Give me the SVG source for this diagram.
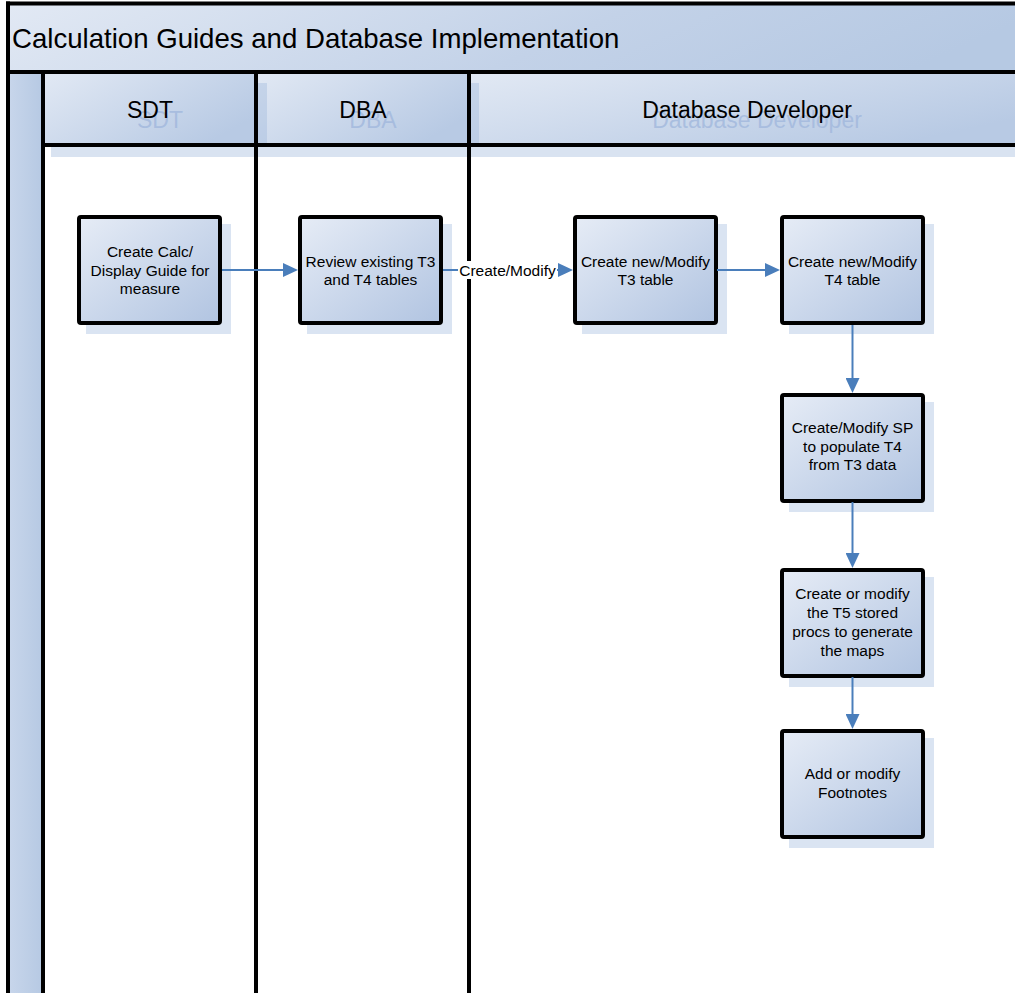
<svg xmlns="http://www.w3.org/2000/svg" width="1015" height="993" viewBox="0 0 1015 993">
<defs>
<linearGradient id="gNode" x1="0" y1="0" x2="1" y2="1">
<stop offset="0" stop-color="#e6ecf6"/>
<stop offset="1" stop-color="#b1c4e1"/>
</linearGradient>
<linearGradient id="gHead" x1="0" y1="0" x2="1" y2="0.6">
<stop offset="0" stop-color="#e2e9f4"/>
<stop offset="1" stop-color="#b8cae4"/>
</linearGradient>
<linearGradient id="gTitle" x1="0" y1="0" x2="1" y2="0.15">
<stop offset="0" stop-color="#e2e9f4"/>
<stop offset="0.6" stop-color="#c3d2e8"/>
<stop offset="1" stop-color="#b6c9e3"/>
</linearGradient>
<linearGradient id="gStrip" x1="0" y1="0" x2="1" y2="0">
<stop offset="0" stop-color="#c8d6eb"/>
<stop offset="1" stop-color="#b6c9e3"/>
</linearGradient>
<marker id="arr" viewBox="0 0 15 14" refX="1" refY="7" markerWidth="15" markerHeight="14" markerUnits="userSpaceOnUse" orient="auto">
<path d="M0,0 L15,7 L0,14 z" fill="#4a7ebb"/>
</marker>
<style>
.frame{stroke:#000;stroke-width:4;fill:none}
.title{font-family:"Liberation Sans",Arial,sans-serif;font-size:27.6px;fill:#000}
.lane{font-family:"Liberation Sans",Arial,sans-serif;font-size:23px;fill:#000;text-anchor:middle}
.ghost{font-family:"Liberation Sans",Arial,sans-serif;font-size:23px;fill:#9fb6dc;fill-opacity:0.75;text-anchor:middle}
.hshadow{fill:#9fb8dd;fill-opacity:0.4}
.nshadow{fill:#dae4f2}
.node{fill:url(#gNode);stroke:#000;stroke-width:4}
.nt{font-family:"Liberation Sans",Arial,sans-serif;font-size:15.5px;fill:#000;text-anchor:middle}
.conn{stroke:#4a7ebb;stroke-width:2;fill:none;marker-end:url(#arr)}
</style>
</defs>
<rect x="0" y="0" width="1015" height="993" fill="#fff"/>

<g id="pool">
<rect x="8" y="3.5" width="1030" height="68.5" fill="url(#gTitle)"/>
<rect x="8" y="72" width="35" height="930" fill="url(#gStrip)"/>
<text class="title" x="12" y="48">Calculation Guides and Database Implementation</text>
</g>

<g id="lane-sdt">
<rect x="43" y="72" width="213" height="73" fill="url(#gHead)"/>
</g>
<g id="lane-dba">
<rect x="256" y="72" width="213" height="73" fill="url(#gHead)"/>
</g>
<g id="lane-dd">
<rect x="469" y="72" width="560" height="73" fill="url(#gHead)"/>
</g>
<g id="lane-shadows">
<rect class="hshadow" x="51" y="146" width="216" height="11"/>
<rect class="hshadow" x="258" y="83" width="9" height="63"/>
<rect class="hshadow" x="267" y="146" width="212" height="11"/>
<rect class="hshadow" x="471" y="83" width="8" height="63"/>
<rect class="hshadow" x="479" y="146" width="540" height="11"/>
</g>
<g id="lane-labels">
<text class="ghost" x="160" y="128">SDT</text>
<text class="ghost" x="373" y="128">DBA</text>
<text class="ghost" x="757" y="128">Database Developer</text>
<text class="lane" x="150" y="118">SDT</text>
<text class="lane" x="363" y="118">DBA</text>
<text class="lane" x="747" y="118">Database Developer</text>
</g>

<g id="frame-lines">
<line class="frame" x1="8" y1="1.5" x2="8" y2="1000"/>
<line class="frame" x1="6" y1="3.5" x2="1030" y2="3.5"/>
<line class="frame" x1="8" y1="72" x2="1030" y2="72"/>
<line class="frame" x1="43" y1="145" x2="1030" y2="145"/>
<line class="frame" x1="43" y1="72" x2="43" y2="1000"/>
<line class="frame" x1="256" y1="72" x2="256" y2="1000"/>
<line class="frame" x1="469" y1="72" x2="469" y2="1000"/>
</g>

<g id="n1">
<rect class="nshadow" x="86" y="224" width="145" height="110"/>
<rect class="node" x="79" y="217" width="141" height="106" rx="2"/>
<text class="nt" x="150" y="257">Create Calc/</text>
<text class="nt" x="150" y="275.5">Display Guide for</text>
<text class="nt" x="150" y="294">measure</text>
</g>
<g id="n2">
<rect class="nshadow" x="307" y="224" width="145" height="110"/>
<rect class="node" x="300" y="217" width="141" height="106" rx="2"/>
<text class="nt" x="370.5" y="266.5">Review existing T3</text>
<text class="nt" x="370.5" y="284.5">and T4 tables</text>
</g>
<g id="n3">
<rect class="nshadow" x="582" y="224" width="145" height="110"/>
<rect class="node" x="575" y="217" width="141" height="106" rx="2"/>
<text class="nt" x="645.5" y="266.5">Create new/Modify</text>
<text class="nt" x="645.5" y="284.5">T3 table</text>
</g>
<g id="n4">
<rect class="nshadow" x="789" y="224" width="145" height="110"/>
<rect class="node" x="782" y="217" width="141" height="106" rx="2"/>
<text class="nt" x="852.5" y="266.5">Create new/Modify</text>
<text class="nt" x="852.5" y="284.5">T4 table</text>
</g>
<g id="n5">
<rect class="nshadow" x="789" y="402" width="145" height="110"/>
<rect class="node" x="782" y="395" width="141" height="106" rx="2"/>
<text class="nt" x="852.5" y="433">Create/Modify SP</text>
<text class="nt" x="852.5" y="451.5">to populate T4</text>
<text class="nt" x="852.5" y="470">from T3 data</text>
</g>
<g id="n6">
<rect class="nshadow" x="789" y="577" width="145" height="110"/>
<rect class="node" x="782" y="570" width="141" height="106" rx="2"/>
<text class="nt" x="852.5" y="599">Create or modify</text>
<text class="nt" x="852.5" y="618">the T5 stored</text>
<text class="nt" x="852.5" y="637">procs to generate</text>
<text class="nt" x="852.5" y="655.5">the maps</text>
</g>
<g id="n7">
<rect class="nshadow" x="789" y="738" width="145" height="110"/>
<rect class="node" x="782" y="731" width="141" height="106" rx="2"/>
<text class="nt" x="852.5" y="779">Add or modify</text>
<text class="nt" x="852.5" y="798">Footnotes</text>
</g>

<g id="connectors">
<path class="conn" d="M222,270 L284,270"/>
<path class="conn" d="M443,270 L559,270"/>
<rect x="458" y="261" width="99" height="18" fill="#fff"/>
<text class="nt" x="507.5" y="275.5">Create/Modify</text>
<path class="conn" d="M717,270 L766,270"/>
<path class="conn" d="M852.5,325 L852.5,379"/>
<path class="conn" d="M852.5,502 L852.5,554"/>
<path class="conn" d="M852.5,677 L852.5,715"/>
</g>
</svg>
